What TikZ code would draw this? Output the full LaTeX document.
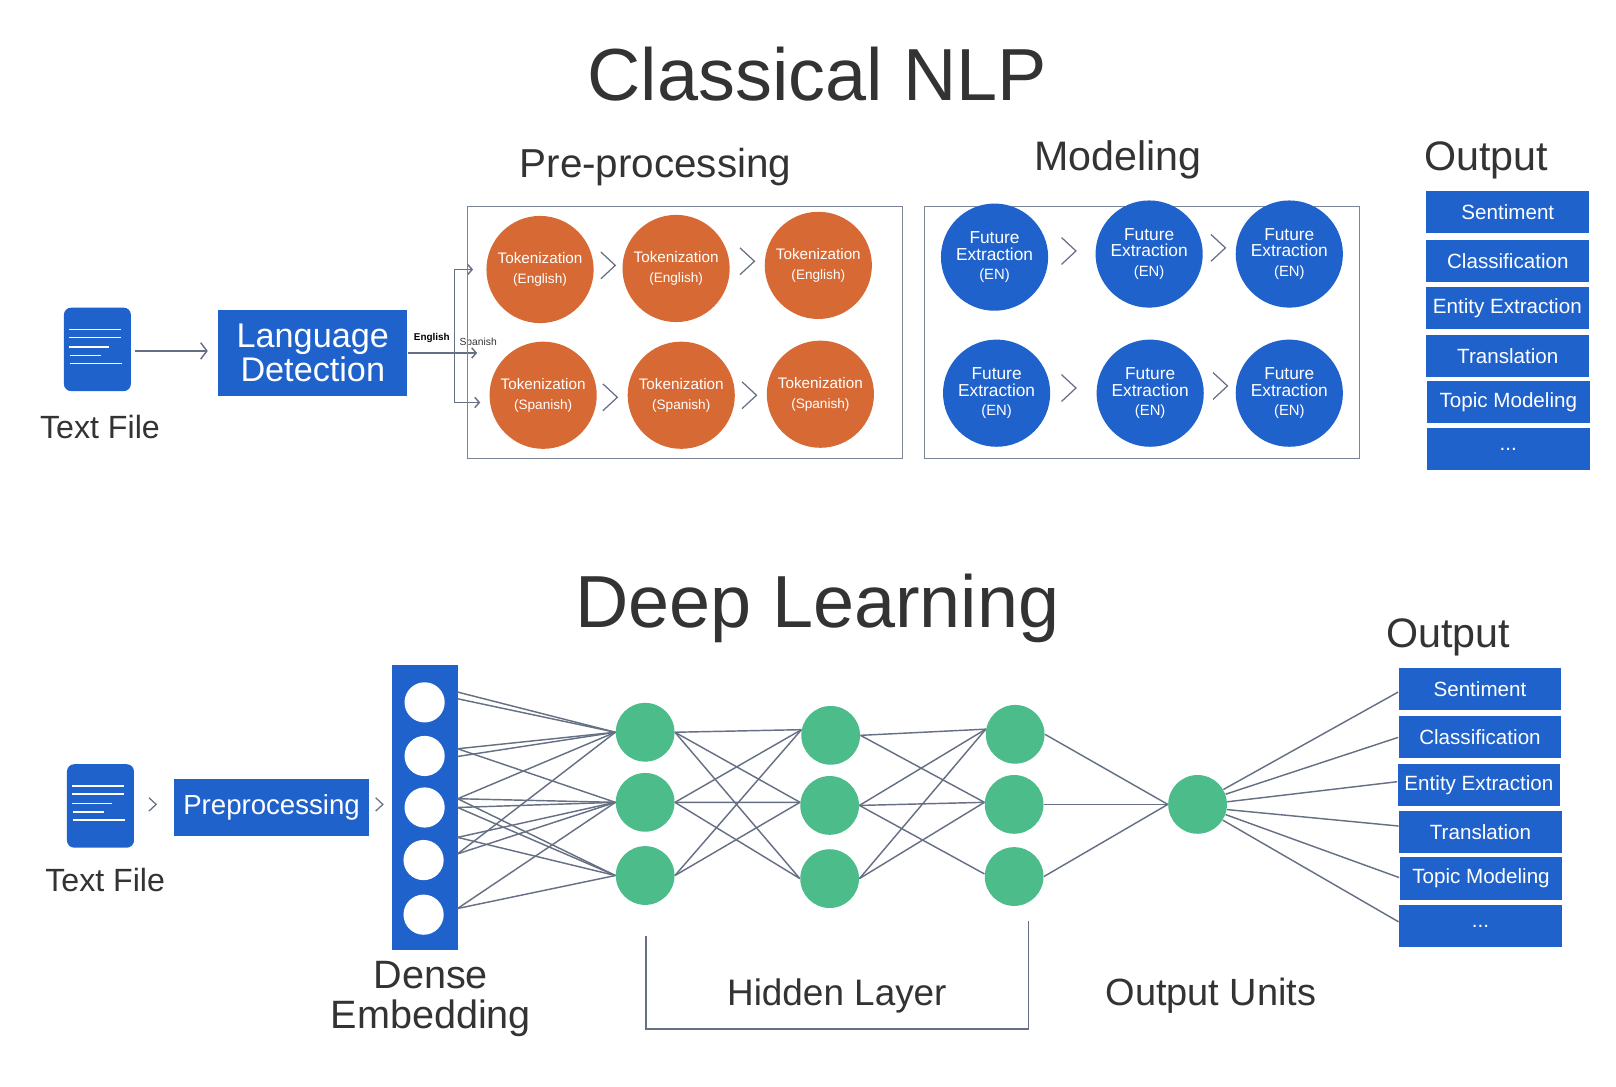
\documentclass[tikz,border=0pt]{standalone}
\usepackage{fontspec}
\setmainfont{Liberation Sans}
\usetikzlibrary{arrows.meta}
\definecolor{bluebox}{HTML}{2062CC}
\definecolor{orangec}{HTML}{D76A34}
\definecolor{greenc}{HTML}{4BBC8A}
\definecolor{linec}{HTML}{667085}
\definecolor{boxline}{HTML}{7A8494}
\definecolor{inktext}{HTML}{333333}
\newcommand{\fs}[1]{\fontsize{#1}{#1}\selectfont}
\tikzset{
  x=0.5pt,y=-0.5pt,
  title/.style={text=inktext,inner sep=0pt,font=\fs{35.8}},
  heading/.style={text=inktext,inner sep=0pt,font=\fs{20}},
  caption/.style={text=inktext,inner sep=0pt,font=\fs{15.6}},
  panel/.style={draw=boxline,line width=0.55pt,fill=none},
  tok/.style={circle,fill=orangec,minimum size=52pt,inner sep=0pt,text=white,font=\fs{7.4},align=center},
  fut/.style={circle,fill=bluebox,minimum size=52pt,inner sep=0pt,text=white,font=\fs{8.4},align=center},
  outbox/.style={rectangle,fill=bluebox,minimum width=79pt,minimum height=20.5pt,inner sep=0pt,text=white,font=\fs{10}},
  doc/.style={rectangle,rounded corners=3.5pt,fill=bluebox,minimum width=32.5pt,minimum height=40.5pt,inner sep=0pt},
  hole/.style={circle,fill=white,minimum size=19.5pt,inner sep=0pt},
  unit/.style={circle,fill=greenc,minimum size=28.5pt,inner sep=0pt},
  wire/.style={draw=linec,line width=0.7pt},
  chevline/.style={draw=linec,line width=0.6pt},
  flow/.style={draw=linec,line width=0.7pt,-{Straight Barb[length=2.2pt,width=5pt]}},
  doclines/.style={draw=white,line width=0.7pt},
}
\newcommand{\chev}[4]{\draw[chevline] (#1-#3,#2-#4) -- (#1+#3,#2) -- (#1-#3,#2+#4);}
\newcommand{\docicon}[3]{%
  \node[doc] (#1) at (#2+32.5,#3+40.5) {};
  \draw[doclines] (#2+5,#3+21) -- (#2+55,#3+21);
  \draw[doclines] (#2+5,#3+29) -- (#2+55,#3+29);
  \draw[doclines] (#2+5,#3+38) -- (#2+44,#3+38);
  \draw[doclines] (#2+6,#3+46.5) -- (#2+36,#3+46.5);
  \draw[doclines] (#2+6,#3+54) -- (#2+56,#3+54);
}
\begin{document}
\begin{tikzpicture}
\useasboundingbox (0,-0.5) rectangle (1568,1053.5);
\fill[white] (0,-0.5) rectangle (1568,1053.5);
% --- titles
\node[title] (t1) at (793,71) {Classical NLP};
\node[title] (t2) at (793,590) {Deep Learning};
\node[heading,font=\fs{19.6}] (h1) at (636,162) {Pre-processing};
\node[heading] (h2) at (1085,155) {Modeling};
\node[heading] (h3) at (1442,155) {Output};
\node[heading] (h4) at (1405,618) {Output};
% --- classical input
\docicon{doca}{62}{298}
\node[caption] (la) at (97,414) {Text File};
\node[rectangle,fill=bluebox,minimum width=91.5pt,minimum height=42pt,inner sep=0pt,text=white,align=center,font=\fs{16.6}] (lang) at (303.5,342) {\raisebox{-1pt}{Language}\\[-0.2pt]\raisebox{-1pt}{Detection}};
\draw[draw=linec,line width=0.7pt,-{Straight Barb[length=3pt,width=8pt]},shorten <=2pt,shorten >=5pt] (doca.east |- 0,340) -- (lang.west |- 0,340);
\coordinate (junc) at (441,342);
\coordinate (endeng) at (459,261);
\coordinate (endmid) at (463,342);
\coordinate (endspa) at (466,390);
\draw[flow] (lang.east) -- (endmid);
\draw[flow] (junc) |- (endeng);
\draw[flow] (junc) |- (endspa);
\node[inner sep=0pt,text=black,font=\fs{4.8}\bfseries] (eng) at (419,327) {English};
\node[inner sep=0pt,text=inktext,font=\fs{5}] (spa) at (464,332) {Spanish};
% --- panels
\draw[panel] (454,200) rectangle (876,444);
\draw[panel] (897,200) rectangle (1319,444);
\foreach \nm/\x/\y in {a/524/261,b/656/260,c/794/257}
  \node[tok] (tok\nm) at (\x,\y) {Tokenization\\[2.5pt]{\fs{6.6}(English)}};
\foreach \nm/\x/\y in {d/527/383,e/661/383,f/796/382}
  \node[tok] (tok\nm) at (\x,\y) {Tokenization\\[2.5pt]{\fs{6.6}(Spanish)}};
\foreach \nm/\x/\y in {a/965/249,b/1115/246,c/1251/246,d/967/381,e/1116/381,f/1251/381}
  \node[fut] (fut\nm) at (\x,\y) {Future\\[-0.5pt]Extraction\\[1pt]{\fs{7.2}(EN)}};
\chev{590}{257}{7}{13}
\chev{725}{253}{7}{13}
\chev{1037}{243}{7}{13}
\chev{1182}{240}{7}{13}
\chev{592}{385}{7}{13}
\chev{727}{383}{7}{13}
\chev{1037}{376}{7}{13}
\chev{1184}{374}{7}{13}
% --- classical output
\node[outbox] (oa1) at (1463,205.5) {Sentiment};
\node[outbox] (oa2) at (1463,252.5) {Classification};
\node[outbox] (oa3) at (1462.5,298.5) {Entity Extraction};
\node[outbox] (oa4) at (1463,345) {Translation};
\node[outbox] (oa5) at (1463.5,389.5) {Topic Modeling};
\node[outbox] (oa6) at (1463.5,435.5) {\raisebox{-1.5pt}{...}};
% --- deep learning input
\docicon{docb}{65}{741}
\node[caption] (lb) at (102,853) {Text File};
\chev{148}{780}{3.5}{6.5}
\node[rectangle,fill=bluebox,minimum width=94.5pt,minimum height=28pt,inner sep=0pt,text=white,font=\fs{13.4}] (prep) at (263.5,783) {Preprocessing};
\chev{368}{780}{3.5}{6.5}
\node[rectangle,fill=bluebox,minimum width=32pt,minimum height=138pt,inner sep=0pt] (emb) at (412,783) {};
\node[hole] (e1) at (412,681) {};
\node[hole] (e2) at (412,733) {};
\node[hole] (e3) at (412,783) {};
\node[hole] (e4) at (411,834) {};
\node[hole] (e5) at (411,887) {};
\node[inner sep=0pt,text=inktext,font=\fs{19.2},align=center] (dense) at (418,969) {Dense\\[0.2pt]Embedding};
% --- network units
\node[unit] (g11) at (626,710) {};
\node[unit] (g12) at (626,778) {};
\node[unit] (g13) at (626,849) {};
\node[unit] (g21) at (806,713) {};
\node[unit] (g22) at (805,781) {};
\node[unit] (g23) at (805,852) {};
\node[unit] (g31) at (985,712) {};
\node[unit] (g32) at (984,780) {};
\node[unit] (g33) at (984,850) {};
\node[unit] (outu) at (1162,780) {};
% --- attachment points on the embedding
\coordinate (s1a) at (444,671);
\coordinate (s1b) at (444,677.5);
\coordinate (s2a) at (444,726);
\coordinate (s2b) at (444,733.5);
\coordinate (s3a) at (444,774.5);
\coordinate (s3b) at (444,783);
\coordinate (s4a) at (444,812);
\coordinate (s4b) at (444,828);
\coordinate (s5a) at (444,881);
% embedding -> layer 1
\foreach \s/\t in {s1a/g11,s1b/g11,s2a/g11,s2b/g11,s3a/g11,s4b/g11,
                   s2a/g12,s3a/g12,s3b/g12,s4a/g12,s4b/g12,s5a/g12,
                   s3a/g13,s3b/g13,s4a/g13,s5a/g13}
  \draw[wire] (\s) -- (\t.west);
% layer 1 -> 2 -> 3 (lines enter the upper units a little above their centres)
\foreach \a/\b/\g in {g11/g21/169,g11/g22/174,g11/g23/180,g12/g21/169,g12/g22/174,g12/g23/180,g13/g21/169,g13/g22/174,
                   g21/g31/170,g21/g32/176,g22/g31/170,g22/g32/176,g22/g33/175,g23/g31/170,g23/g32/176}
  \draw[wire] (\a.east) -- (\b.\g);
\foreach \a in {g31,g32,g33}
  \draw[wire] (\a.east) -- (outu.west);
% --- deep output boxes
\node[outbox] (ob1) at (1436,668) {Sentiment};
\node[outbox] (ob2) at (1436,714.5) {Classification};
\node[outbox] (ob3) at (1435,761) {Entity Extraction};
\node[outbox] (ob4) at (1436.5,807) {Translation};
\node[outbox] (ob5) at (1437,852) {Topic Modeling};
\node[outbox] (ob6) at (1436.5,898) {\raisebox{-1.5pt}{...}};
\draw[wire] (outu.30) -- (ob1.west |- 0,671);
\draw[wire] (outu.20) -- (ob2.west |- 0,715);
\draw[wire] (outu.5) -- (ob3.west |- 0,758);
\draw[wire] (outu.-10) -- (ob4.west |- 0,801);
\draw[wire] (outu.-20) -- (ob5.west |- 0,851);
\draw[wire] (outu.-32) -- (ob6.west |- 0,894);
% --- hidden layer bracket
\coordinate (bl) at (627,908);
\coordinate (br) at (998,893);
\draw[wire] (bl) -- (627,998) -- (998,998) -- (br);
\node[inner sep=0pt,text=inktext,font=\fs{17.9}] (hid) at (812,966) {Hidden Layer};
\node[inner sep=0pt,text=inktext,font=\fs{18.4}] (ou) at (1175,966) {Output Units};
\end{tikzpicture}
\end{document}
